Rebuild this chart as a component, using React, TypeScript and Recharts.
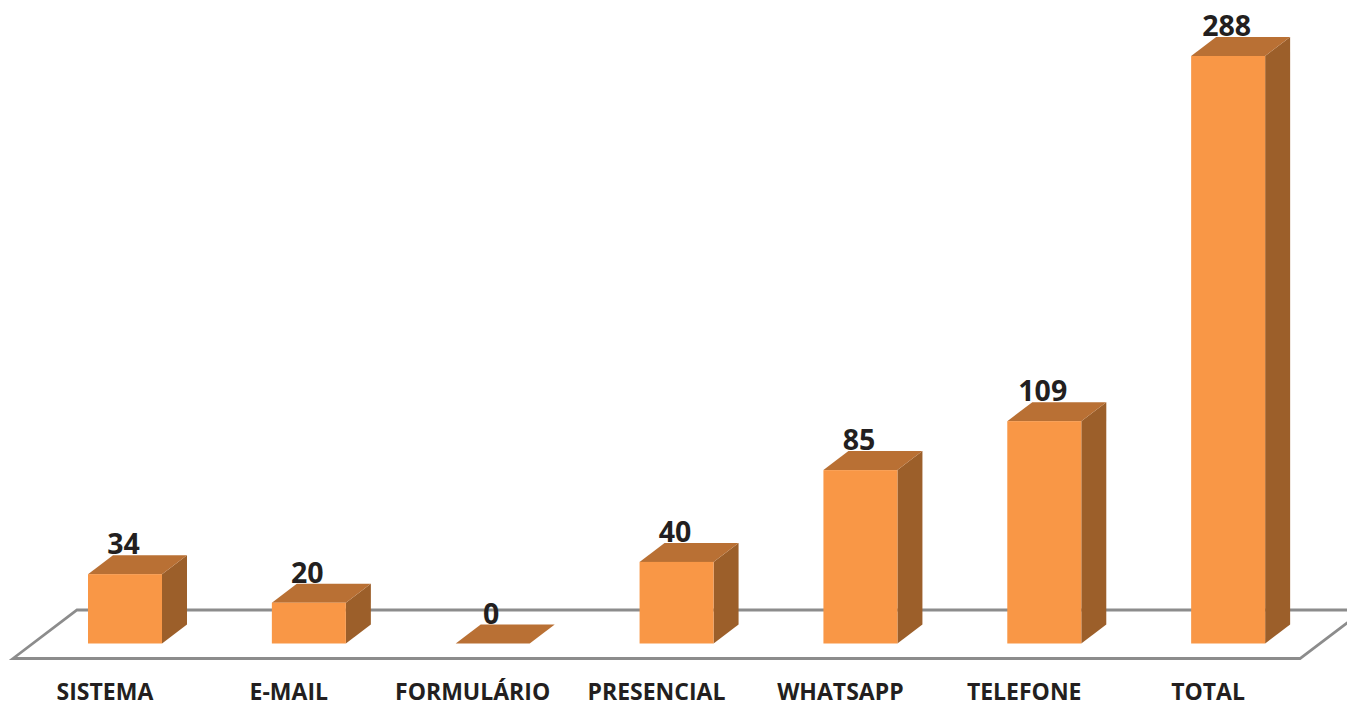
import { BarChart, Bar, XAxis, YAxis, LabelList, usePlotArea } from 'recharts';

const categories = ['SISTEMA', 'E-MAIL', 'FORMULÁRIO', 'PRESENCIAL', 'WHATSAPP', 'TELEFONE', 'TOTAL'];
const values = [34, 20, 0, 40, 85, 109, 288];

const chartData = categories.map((name, i) => ({ name, value: values[i] }));

const FONT = '"Open Sans", sans-serif';
const TEXT_COLOR = '#231f20';
const DEPTH_X = 25;
const DEPTH_Y = 19;

// box with front, top and side faces
const Box3D = ({ x, y, width, height }: any) => (
  <g>
    <path
      d={`M${x + width},${y} l${DEPTH_X},${-DEPTH_Y} v${height} l${-DEPTH_X},${DEPTH_Y} Z`}
      fill="#9c5f2a"
    />
    <path
      d={`M${x},${y} l${DEPTH_X},${-DEPTH_Y} h${width} l${-DEPTH_X},${DEPTH_Y} Z`}
      fill="#b97034"
    />
    <rect x={x} y={y} width={width} height={height} fill="#f99746" />
  </g>
);

// the grey floor outline under the bars
const Floor = () => {
  const plot = usePlotArea();
  if (!plot) return null;
  const bottom = plot.y + plot.height;
  const left = plot.x;
  const right = plot.x + plot.width;
  return (
    <path
      d={`M${left - 20},${bottom + 15} L${left + 44},${bottom - 33.5} H${right + 44} L${right - 20},${bottom + 15} Z`}
      fill="none"
      stroke="#8c8c8c"
      strokeWidth={2.8}
    />
  );
};

export default function App() {
  return (
    <div style={{ position: 'absolute', left: 0, top: 0, width: 1347, height: 702, overflow: 'hidden', background: '#fff' }}>
      <BarChart
        width={1347}
        height={702}
        data={chartData}
        margin={{ top: 56, right: 27, bottom: 0, left: 33 }}
      >
        <Floor />
        <XAxis
          dataKey="name"
          height={58.5}
          axisLine={false}
          tickLine={false}
          interval={0}
          tickMargin={34}
          tick={{ fontFamily: FONT, fontSize: 23, fontWeight: 700, fill: TEXT_COLOR, dx: -20 }}
        />
        <YAxis hide domain={[0, 288]} />
        <Bar dataKey="value" barSize={74} shape={<Box3D />} isAnimationActive={false}>
          <LabelList
            dataKey="value"
            position="top"
            offset={20}
            dx={-1.5}
            style={{ fontFamily: FONT, fontSize: 28.5, fontWeight: 700, fill: TEXT_COLOR }}
          />
        </Bar>
      </BarChart>
    </div>
  );
}
